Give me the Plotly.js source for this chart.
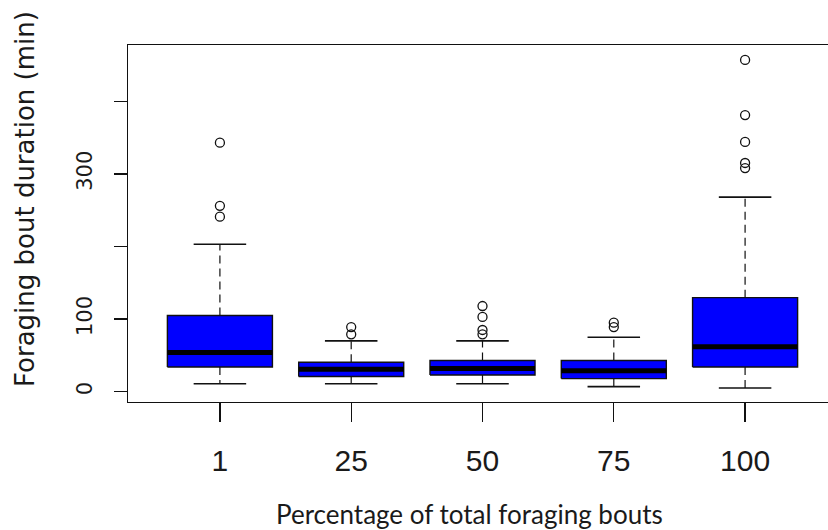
<!DOCTYPE html>
<html>
<head>
<meta charset="utf-8">
<script src="https://cdn.plot.ly/plotly-3.0.1.min.js"></script>
<style>
  html, body { margin: 0; padding: 0; overflow: hidden; background: #fff; width: 828px; height: 530px; }
  #chart { width: 845px; height: 530px; }
</style>
</head>
<body>
<div id="chart"></div>
<script>
// ---- data ----
const groups = [1, 2, 3, 4, 5];
const xTickLabels = ['1', '25', '50', '75', '100'];
const lowerWhisker = [11, 11, 11, 7, 5];
const q1 = [34, 21, 23, 18, 34];
const median = [54, 31, 32, 29, 62];
const q3 = [105, 40.5, 43, 43, 129.5];
const upperWhisker = [203, 70, 70, 75, 268];
const outliers = [
  [343, 256, 241],
  [89, 79],
  [118, 103, 85, 79],
  [95, 89],
  [457, 381, 344, 315, 308]
];
const yTickVals = [0, 100, 200, 300, 400];
const yTickLabels = ['0', '100', '', '300', ''];
const xTitle = 'Percentage of total foraging bouts';
const yTitle = 'Foraging bout duration (min)';

// ---- build traces ----
const halfBox = 0.4, halfCap = 0.2;
const boxX = [], boxY = [], medX = [], medY = [], whX = [], whY = [], capX = [], capY = [], outX = [], outY = [];
groups.forEach((g, i) => {
  boxX.push(g - halfBox, g + halfBox, g + halfBox, g - halfBox, g - halfBox, null);
  boxY.push(q1[i], q1[i], q3[i], q3[i], q1[i], null);
  medX.push(g - halfBox, g + halfBox, null);
  medY.push(median[i], median[i], null);
  whX.push(g, g, null, g, g, null);
  whY.push(q3[i], upperWhisker[i], null, q1[i], lowerWhisker[i], null);
  capX.push(g - halfCap, g + halfCap, null, g - halfCap, g + halfCap, null);
  capY.push(upperWhisker[i], upperWhisker[i], null, lowerWhisker[i], lowerWhisker[i], null);
  outliers[i].forEach(v => { outX.push(g); outY.push(v); });
});

const traces = [
  { x: whX, y: whY, mode: 'lines', type: 'scatter', line: { color: '#111', width: 1.2, dash: '8px,5px' }, hoverinfo: 'skip' },
  { x: capX, y: capY, mode: 'lines', type: 'scatter', line: { color: '#111', width: 1.6 }, hoverinfo: 'skip' },
  { x: boxX, y: boxY, mode: 'lines', type: 'scatter', fill: 'toself', fillcolor: '#0000FF', line: { color: '#111', width: 1.4 }, hoverinfo: 'skip' },
  { x: medX, y: medY, mode: 'lines', type: 'scatter', line: { color: '#000', width: 5 }, hoverinfo: 'skip' },
  { x: outX, y: outY, mode: 'markers', type: 'scatter', marker: { symbol: 'circle-open', size: 9, color: '#111', line: { width: 1.3, color: '#111' } }, hoverinfo: 'skip' }
];

const layout = {
  width: 845, height: 530,
  margin: { l: 128, r: 8, t: 45, b: 128 },
  paper_bgcolor: '#fff', plot_bgcolor: '#fff',
  showlegend: false,
  xaxis: {
    range: [0.3, 5.7], tickmode: 'array', tickvals: groups, ticktext: xTickLabels,
    ticks: 'outside', ticklen: 19, tickwidth: 1.3, tickcolor: '#111',
    showline: true, mirror: true, linecolor: '#111', linewidth: 1.4,
    showgrid: false, zeroline: false, ticklabelstandoff: 13,
    tickfont: { family: 'Liberation Sans, Arial, sans-serif', size: 30, color: '#1a1a1a' }
  },
  yaxis: {
    range: [-14.2, 477.5], tickmode: 'array', tickvals: yTickVals, ticktext: yTickLabels,
    ticks: 'outside', ticklen: 13, tickwidth: 1.3, tickcolor: '#111', tickangle: -90,
    showline: true, mirror: true, linecolor: '#111', linewidth: 1.4,
    showgrid: false, zeroline: false, ticklabelstandoff: 13,
    tickfont: { family: 'DejaVu Sans, Verdana, sans-serif', size: 21, color: '#1a1a1a' }
  },
  annotations: [
    { text: xTitle, xref: 'paper', yref: 'paper', x: 0.4817, y: -0.3137, xanchor: 'center', yanchor: 'middle', showarrow: false,
      font: { family: 'Lato, Open Sans, sans-serif', size: 26, color: '#1a1a1a' } },
    { text: yTitle, xref: 'paper', yref: 'paper', x: -0.1453, y: 0.5686, xanchor: 'center', yanchor: 'middle', showarrow: false, textangle: -90,
      font: { family: 'DejaVu Sans, Verdana, sans-serif', size: 26, color: '#1a1a1a' } }
  ]
};

Plotly.newPlot('chart', traces, layout, { displayModeBar: false, staticPlot: true });
</script>
</body>
</html>
